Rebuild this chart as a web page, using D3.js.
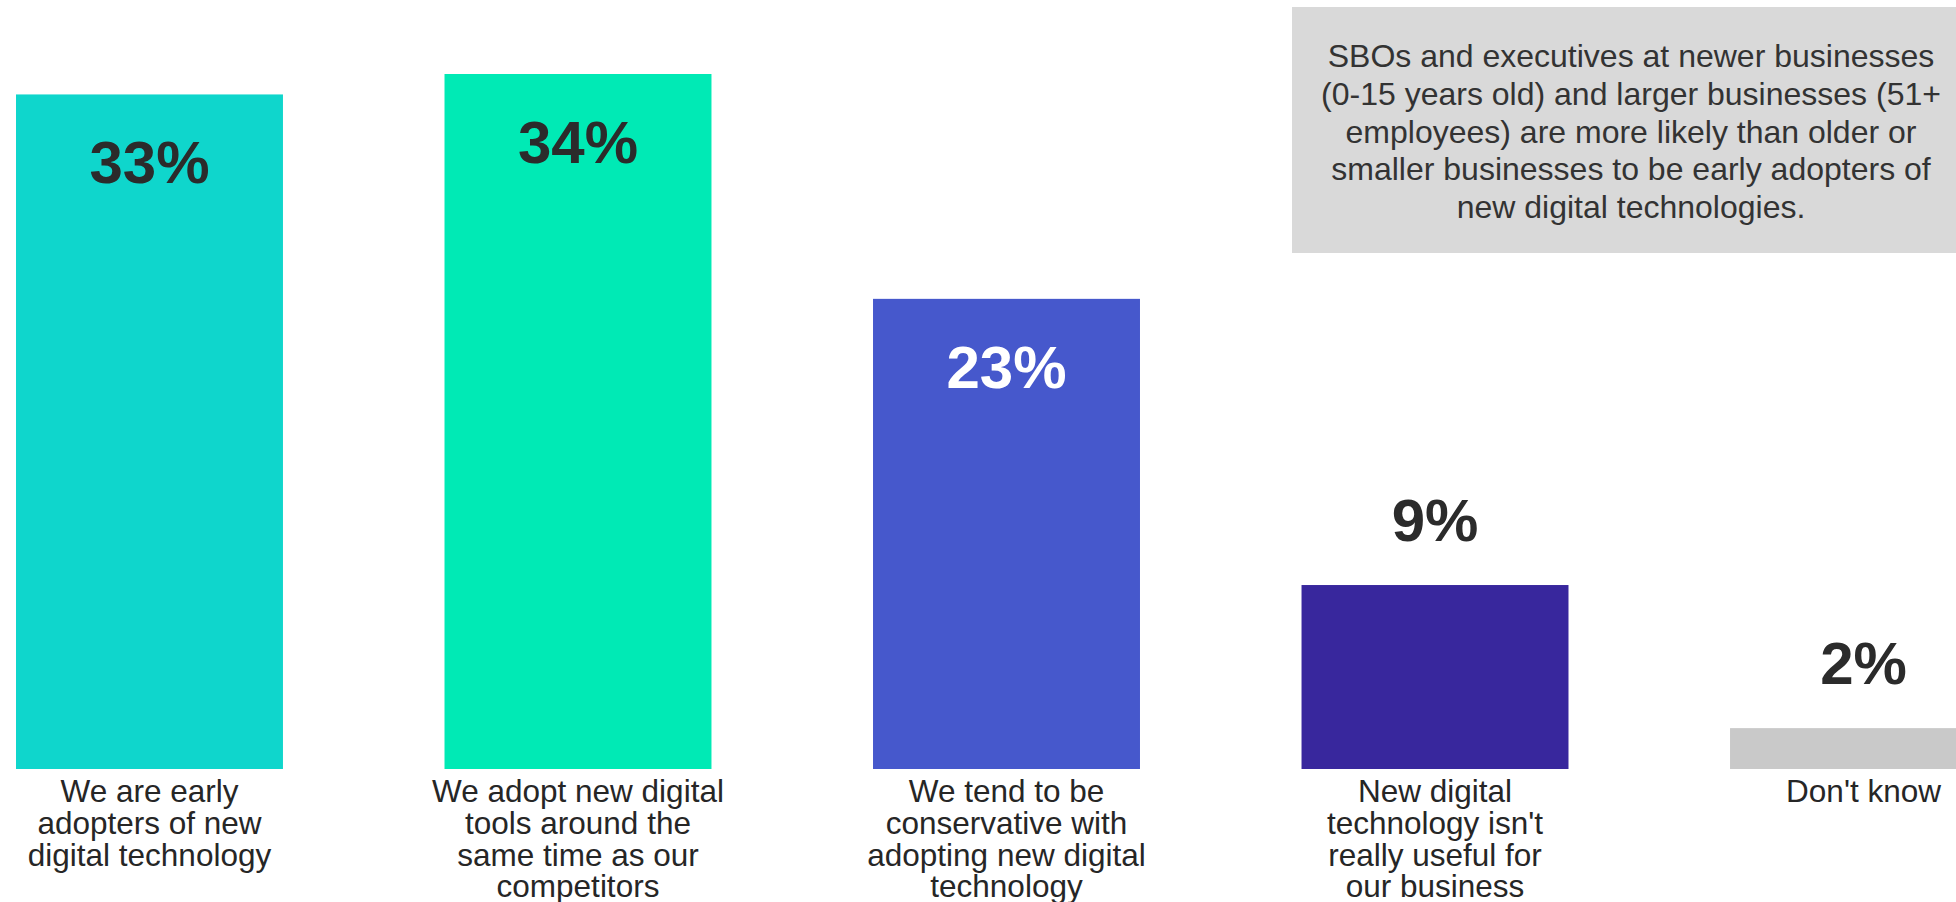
<!DOCTYPE html>
<html>
<head>
<meta charset="utf-8">
<script src="https://cdn.jsdelivr.net/npm/d3@7"></script>
<style>
  html, body { margin: 0; padding: 0; background: #ffffff; }
  svg { display: block; font-family: "Liberation Sans", Arial, sans-serif; }
</style>
</head>
<body>
<svg id="chart" width="1956" height="902"></svg>
<script>
// Survey answers: attitude towards adopting new digital technology
const categories = [
  "We are early adopters of new digital technology",
  "We adopt new digital tools around the same time as our competitors",
  "We tend to be conservative with adopting new digital technology",
  "New digital technology isn't really useful for our business",
  "Don't know"
];
const categoryLines = [
  ["We are early", "adopters of new", "digital technology"],
  ["We adopt new digital", "tools around the", "same time as our", "competitors"],
  ["We tend to be", "conservative with", "adopting new digital", "technology"],
  ["New digital", "technology isn't", "really useful for", "our business"],
  ["Don't know"]
];
const values = [33, 34, 23, 9, 2];
const barColors = ["#0fd6cc", "#00eab5", "#4658cc", "#38279d", "#c9c9c9"];
const valueLabelColors = ["#2b2b2b", "#2b2b2b", "#ffffff", "#2b2b2b", "#2b2b2b"];
const noteLines = [
  "SBOs and executives at newer businesses",
  "(0-15 years old) and larger businesses (51+",
  "employees) are more likely than older or",
  "smaller businesses to be early adopters of",
  "new digital technologies."
];

const svg = d3.select("#chart");
const baseY = 769;

const x = d3.scaleBand()
  .domain(categories)
  .range([16, 16 + 4 * 428.5 + 267])
  .paddingInner(0.377)
  .paddingOuter(0);

const y = d3.scaleLinear()
  .domain([0, 34])
  .range([baseY, 74]);

const data = categories.map((c, i) => ({
  cat: c, value: values[i], color: barColors[i],
  labelColor: valueLabelColors[i], lines: categoryLines[i]
}));

// Bars
svg.append("g").selectAll("rect")
  .data(data)
  .join("rect")
  .attr("x", d => x(d.cat))
  .attr("y", d => y(d.value))
  .attr("width", x.bandwidth())
  .attr("height", d => baseY - y(d.value))
  .attr("fill", d => d.color);

// Value labels: inside tall bars, above short bars
svg.append("g").selectAll("text")
  .data(data)
  .join("text")
  .attr("x", d => x(d.cat) + x.bandwidth() / 2)
  .attr("y", d => d.value >= 15 ? y(d.value) + 89 : y(d.value) - 44)
  .attr("text-anchor", "middle")
  .attr("font-size", 60)
  .attr("font-weight", "bold")
  .attr("fill", d => d.labelColor)
  .text(d => d.value + "%");

// Category labels under the bars
const catG = svg.append("g");
data.forEach(d => {
  const t = catG.append("text")
    .attr("x", x(d.cat) + x.bandwidth() / 2)
    .attr("y", 802)
    .attr("text-anchor", "middle")
    .attr("font-size", 31.5)
    .attr("fill", "#262626");
  d.lines.forEach((line, j) => {
    t.append("tspan")
      .attr("x", x(d.cat) + x.bandwidth() / 2)
      .attr("dy", j === 0 ? 0 : 31.8)
      .text(line);
  });
});

// Callout box
const note = svg.append("g");
note.append("rect")
  .attr("x", 1292)
  .attr("y", 7)
  .attr("width", 664)
  .attr("height", 246)
  .attr("fill", "#d9d9d9");
const noteText = note.append("text")
  .attr("x", 1631)
  .attr("y", 67)
  .attr("text-anchor", "middle")
  .attr("font-size", 32)
  .attr("fill", "#333333");
noteLines.forEach((line, j) => {
  noteText.append("tspan")
    .attr("x", 1631)
    .attr("dy", j === 0 ? 0 : 37.8)
    .text(line);
});
</script>
</body>
</html>
